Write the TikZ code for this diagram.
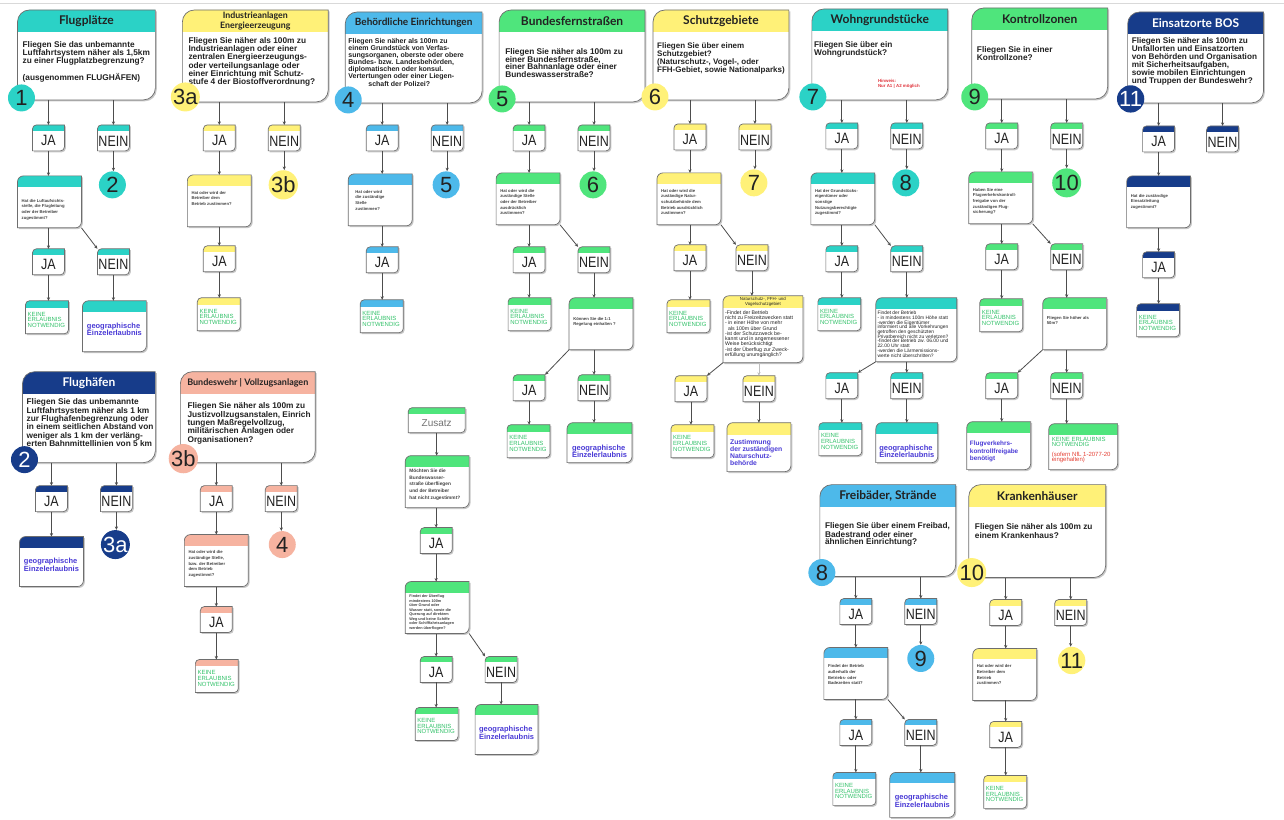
\documentclass[tikz,border=0pt]{standalone}
\usepackage{fontspec}
\usepackage{graphicx}
\setmainfont{Liberation Sans}
\newfontfamily\headfont{Lato}
\usetikzlibrary{arrows.meta,backgrounds}

\definecolor{tq}{HTML}{2BD2C6}
\definecolor{ye}{HTML}{FFF178}
\definecolor{bl}{HTML}{4DB9EA}
\definecolor{gr}{HTML}{4FE57C}
\definecolor{nv}{HTML}{173C8A}
\definecolor{sa}{HTML}{F6B3A0}
\definecolor{okgreen}{HTML}{33C26A}
\definecolor{geoblue}{HTML}{4A3BD6}
\definecolor{warnred}{HTML}{E0343C}
\definecolor{txt}{HTML}{222222}
\definecolor{edge}{HTML}{6E6E6E}

\tikzset{
  plate/.style={anchor=north west, inner sep=0pt, outer sep=0pt},
  plateline/.style={draw=edge, line width=0.7pt},
  plateshadow/.style={black!22, transform canvas={shift={(1.4pt,-1.4pt)}}},
  headtext/.style={inner sep=0pt, align=center, text=txt, font=\headfont\bfseries\fontsize{12}{13}\selectfont},
  bodytext/.style={anchor=north west, inner sep=0pt, align=left, text=txt, font=\bfseries\fontsize{8.3}{8.3}\selectfont},
  asktext/.style={anchor=north west, inner sep=0pt, align=left, text=txt!85, font=\bfseries\fontsize{4.2}{5.7}\selectfont},
  smalltext/.style={anchor=north west, inner sep=0pt, align=left, text=txt, font=\fontsize{5.2}{5.1}\selectfont},
  hinttext/.style={anchor=north west, inner sep=0pt, align=left, text=warnred, font=\bfseries\fontsize{4.4}{5.2}\selectfont},
  anslabel/.style={inner sep=0pt, text=txt, font=\fontsize{12.5}{13}\selectfont},
  oktext/.style={anchor=north west, inner sep=0pt, align=left, text=okgreen, font=\fontsize{6}{5.6}\selectfont},
  geotext/.style={inner sep=0pt, align=left, text=geoblue, font=\bfseries\fontsize{7.5}{7.6}\selectfont},
  numdot/.style={circle, inner sep=0pt, minimum size=27pt, text=txt, font=\fontsize{22}{22}\selectfont},
  link/.style={draw=edge!70!black, line width=0.8pt, -{Stealth[length=3.5pt,width=3.2pt]}},
}

% name, x, y, width, height, colour, strip, radius
\newcommand\plate[8]{%
  \node[plate, minimum width=#4pt, minimum height=#5pt] (#1) at (#2,#3) {};
  \begin{scope}[on background layer]
    \fill[plateshadow] ([yshift=-#8pt]#1.north west) arc[start angle=180,end angle=90,radius=#8pt]
      -- (#1.north east) -- ([yshift=#8pt]#1.south east) arc[start angle=0,end angle=-90,radius=#8pt]
      -- (#1.south west) -- cycle;
    \draw[plateline, fill=white, path picture={\fill[#6] ([yshift=2pt]path picture bounding box.north west)
      rectangle ([yshift=-#7pt]path picture bounding box.north east);}]
      ([yshift=-#8pt]#1.north west) arc[start angle=180,end angle=90,radius=#8pt]
      -- (#1.north east) -- ([yshift=#8pt]#1.south east) arc[start angle=0,end angle=-90,radius=#8pt]
      -- (#1.south west) -- cycle;
  \end{scope}}
\newcommand\topic[6]{\plate{#1}{#2}{#3}{#4}{#5}{#6}{22}{12}}
\newcommand\answer[5]{%
  \plate{#1}{#2}{#3}{32}{26}{#4}{6}{4}
  \node[anslabel] (#1-l) at ([yshift=-3pt]#1.center) {\scalebox{1}[1.2]{#5}};}
\newcommand\ask[6][]{%
  \plate{#2}{#3}{#4}{64}{52}{#5}{11}{6}
  \node[asktext,#1] (#2-l) at ([shift={(4pt,-16pt)}]#2.north west) {#6};}
\newcommand\keine[4]{%
  \plate{#1}{#2}{#3}{43}{33}{#4}{7}{4}
  \node[oktext] (#1-l) at ([shift={(2pt,-11pt)}]#1.north west) {KEINE\\ERLAUBNIS\\NOTWENDIG};}
\newcommand\geo[6]{%
  \plate{#1}{#2}{#3}{#4}{#5}{#6}{11}{6}
  \node[geotext] (#1-l) at ([yshift=-28.5pt]#1.north) {geographische\\Einzelerlaubnis};}

\begin{document}
\begin{tikzpicture}[x=1pt, y=-1pt]
  \begin{scope}[on background layer]
    \fill[white] (0,0) rectangle (1284,820);
    \draw[black!15, line width=1pt] (0,3) -- (1284,3);
  \end{scope}
  \useasboundingbox (0,0) rectangle (1284,820);

  % Flugplätze
  \topic{c1}{17}{10}{138}{90}{tq}
  \node[headtext] (c1-h) at ([yshift=-11pt]c1.north) {Flugplätze};
  \node[bodytext] (c1-b) at (22,41) {Fliegen Sie das unbemannte\\Luftfahrtsystem näher als 1,5km\\zu einer Flugplatzbegrenzung?\\[6.5pt](ausgenommen FLUGHÄFEN)};
  \node[numdot, fill=tq] (n1) at (21,98) {1};
  \answer{a1y}{32}{125}{tq}{JA}
  \answer{a1n}{97}{125}{tq}{NEIN}
  \node[numdot, fill=tq] (n2) at (112,185) {2};
  \ask[yshift=-7pt]{q1}{17}{176}{tq}{Hat die Luftaufsichts-\\stelle, die Flugleitung\\oder der Betreiber\\zugestimmt?}
  \answer{a1y2}{32}{249}{tq}{JA}
  \answer{a1n2}{97}{249}{tq}{NEIN}
  \keine{r1}{25}{301}{tq}
  \geo{g1}{82}{301}{64}{51}{tq}

  % Industrieanlagen
  \topic{c2}{182}{10}{146}{92}{ye}
  \node[headtext, font=\headfont\bfseries\fontsize{8.8}{9.4}\selectfont] (c2-h) at ([yshift=-11pt]c2.north) {Industrieanlagen\\Energieerzeugung};
  \node[bodytext] (c2-b) at (188,37) {Fliegen Sie näher als 100m zu\\Industrieanlagen oder einer\\zentralen Energieerzeugungs-\\oder verteilungsanlage oder\\einer Einrichtung mit Schutz-\\stufe 4 der Biostoffverordnung?};
  \node[numdot, fill=ye] (n3a) at (185,97) {3a};
  \answer{a2y}{203}{125}{ye}{JA}
  \answer{a2n}{268}{125}{ye}{NEIN}
  \node[numdot, fill=ye] (n3b) at (283,185) {3b};
  \ask{q2}{187}{175}{ye}{Hat oder wird der\\Betreiber dem\\Betrieb zustimmen?}
  \answer{a2y2}{203}{246}{ye}{JA}
  \keine{r2}{197}{298}{ye}

  % Behördliche Einrichtungen
  \topic{c3}{345}{12}{137}{91}{bl}
  \node[headtext, font=\headfont\bfseries\fontsize{10}{11}\selectfont] (c3-h) at ([yshift=-11pt]c3.north) {Behördliche Einrichtungen};
  \node[bodytext, font=\bfseries\fontsize{7}{6.4}\selectfont] (c3-b) at (348,38) {Fliegen Sie näher als 100m zu\\einem Grundstück von Verfas-\\sungsorganen, oberste oder obere\\Bundes- bzw. Landesbehörden,\\diplomatischen oder konsul.\\Vertertungen oder einer Liegen-\\\hspace*{20pt}schaft der Polizei?};
  \node[numdot, fill=bl] (n4) at (348,100) {4};
  \answer{a3y}{366}{125}{bl}{JA}
  \answer{a3n}{431}{125}{bl}{NEIN}
  \node[numdot, fill=bl] (n5a) at (446,185) {5};
  \ask[xshift=3pt]{q3}{348}{174}{bl}{Hat oder wird\\die zuständige\\Stelle\\zustimmen?}
  \answer{a3y2}{366}{247}{bl}{JA}
  \keine{r3}{360}{300}{bl}

  % Bundesfernstraßen
  \topic{c4}{499}{10}{146}{92}{gr}
  \node[headtext] (c4-h) at ([yshift=-11pt]c4.north) {Bundesfernstraßen};
  \node[bodytext, font=\bfseries\fontsize{8.3}{7.9}\selectfont] (c4-b) at (505,48) {Fliegen Sie näher als 100m zu\\einer Bundesfernstraße,\\einer Bahnanlage oder einer\\Bundeswasserstraße?};
  \node[numdot, fill=gr] (n5) at (502,99) {5};
  \answer{a4y}{513}{125}{gr}{JA}
  \answer{a4n}{578}{125}{gr}{NEIN}
  \node[numdot, fill=gr] (n6) at (593,185) {6};
  \ask{q4}{496}{173}{gr}{Hat oder wird die\\zuständige Stelle\\oder der Betreiber\\ausdrücklich\\zustimmen?}
  \answer{a4y2}{513}{247}{gr}{JA}
  \answer{a4n2}{578}{247}{gr}{NEIN}
  \keine{r4}{508}{298}{gr}
  \ask[yshift=-3pt]{q4b}{569}{298}{gr}{Können Sie die 1:1\\Regelung einhalten ?}
  \answer{a4y3}{513}{375}{gr}{JA}
  \answer{a4n3}{578}{375}{gr}{NEIN}
  \keine{r4b}{507}{425}{gr}
  \geo{g4}{567}{423}{65}{40}{gr}

  % Schutzgebiete
  \topic{c5}{653}{10}{136}{90}{ye}
  \node[headtext] (c5-h) at ([yshift=-11pt]c5.north) {Schutzgebiete};
  \node[bodytext, font=\bfseries\fontsize{8}{8}\selectfont] (c5-b) at (657,43) {Fliegen Sie über einem\\Schutzgebiet?\\(Naturschutz-, Vogel-, oder\\FFH-Gebiet, sowie Nationalparks)};
  \node[numdot, fill=ye] (n6b) at (655,97) {6};
  \answer{a5y}{674}{124}{ye}{JA}
  \answer{a5n}{739}{124}{ye}{NEIN}
  \node[numdot, fill=ye] (n7) at (754,183) {7};
  \ask{q5}{657}{173}{ye}{Hat oder wird die\\zuständige Natur-\\schutzbehörde dem\\Betrieb ausdrücklich\\zustimmen?}
  \answer{a5y2}{674}{245}{ye}{JA}
  \answer{a5n2}{736}{245}{ye}{NEIN}
  \keine{r5}{667}{300}{ye}
  \plate{q5b}{723}{296}{80}{67}{ye}{12}{6}
  \node[smalltext, anchor=north, align=center, font=\fontsize{4.4}{5}\selectfont] (q5b-h) at ([yshift=-1.5pt]q5b.north) {Naturschutz-, FFH- und\\Vogelschutzgebiet};
  \node[smalltext] (q5b-l) at ([shift={(2pt,-15pt)}]q5b.north west) {-Findet der Betrieb\\nicht zu Freizeitzwecken statt\\- in einer Höhe von mehr\\\hspace*{3pt}als 100m über Grund\\-ist der Schutzzweck be-\\kannt und in angemessener\\Weise berücksichtigt\\-ist der Überflug zur Zweck-\\erfüllung unumgänglich?};
  \answer{a5y3}{675}{376}{ye}{JA}
  \answer{a5n3}{743}{376}{ye}{NEIN}
  \keine{r5b}{671}{425}{ye}
  \plate{z5}{727}{423}{64}{49}{ye}{12}{6}
  \node[geotext, anchor=north west, font=\bfseries\fontsize{6.8}{7}\selectfont] (z5-l) at ([shift={(3pt,-17pt)}]z5.north west) {Zustimmung\\der zuständigen\\Naturschutz-\\behörde};

  % Wohngrundstücke
  \topic{c6}{812}{9}{136}{91}{tq}
  \node[headtext] (c6-h) at ([yshift=-11pt]c6.north) {Wohngrundstücke};
  \node[bodytext, font=\bfseries\fontsize{8.3}{8}\selectfont] (c6-b) at (814,41) {Fliegen Sie über ein\\Wohngrundstück?};
  \node[hinttext] (c6-w) at (878,79) {Hinweis:\\Nur A1 | A2 möglich};
  \node[numdot, fill=tq] (n7b) at (813,97) {7};
  \answer{a6y}{826}{123}{tq}{JA}
  \answer{a6n}{891}{123}{tq}{NEIN}
  \node[numdot, fill=tq] (n8) at (906,183) {8};
  \ask{q6}{811}{173}{tq}{Hat der Grundstücks-\\eigentümer oder\\sonstige\\Nutzungsberechtigte\\zugestimmt?}
  \answer{a6y2}{826}{246}{tq}{JA}
  \answer{a6n2}{891}{246}{tq}{NEIN}
  \keine{r6}{818}{298}{tq}
  \plate{q6b}{876}{298}{81}{64}{tq}{11}{6}
  \node[smalltext, font=\fontsize{4.9}{4.75}\selectfont] (q6b-l) at ([shift={(1.5pt,-13pt)}]q6b.north west) {Findet der Betrieb\\- in mindestens 100m Höhe statt\\-werden die Eigentümer\\informiert und alle Vorkehrungen\\getroffen den geschützten\\Privatbereich nicht zu verletzen?\\-findet der Betrieb zw. 06.00 und\\22.00 Uhr statt\\-werden die Lärmemissions-\\werte nicht überschritten?};
  \answer{a6y3}{826}{373}{tq}{JA}
  \answer{a6n3}{891}{373}{tq}{NEIN}
  \keine{r6b}{819}{423}{tq}
  \geo{g6}{876}{423}{62}{40}{tq}

  % Kontrollzonen
  \topic{c7}{972}{8}{136}{91}{gr}
  \node[headtext] (c7-h) at ([yshift=-11pt]c7.north) {Kontrollzonen};
  \node[bodytext, font=\bfseries\fontsize{8.3}{8}\selectfont] (c7-b) at (977,46) {Fliegen Sie in einer\\Kontrollzone?};
  \node[numdot, fill=gr] (n9) at (975,97) {9};
  \answer{a7y}{986}{123}{gr}{JA}
  \answer{a7n}{1051}{123}{gr}{NEIN}
  \node[numdot, fill=gr] (n10) at (1067,183) {10};
  \ask{q7}{969}{172}{gr}{Haben Sie eine\\Flugverkehrskontroll-\\freigabe von der\\zuständigen Flug-\\sicherung?}
  \answer{a7y2}{986}{244}{gr}{JA}
  \answer{a7n2}{1051}{244}{gr}{NEIN}
  \keine{r7}{980}{299}{gr}
  \ask[yshift=-2pt]{q7b}{1043}{298}{gr}{Fliegen Sie höher als\\50m?}
  \answer{a7y3}{986}{373}{gr}{JA}
  \answer{a7n3}{1051}{373}{gr}{NEIN}
  \plate{f7}{967}{422}{64}{48}{gr}{11}{6}
  \node[geotext, anchor=north west, font=\bfseries\fontsize{6.4}{7.6}\selectfont] (f7-l) at ([shift={(3pt,-19pt)}]f7.north west) {Flugverkehrs-\\kontrollfreigabe\\benötigt};
  \plate{k7}{1049}{424}{69}{46}{gr}{11}{6}
  \node[oktext] (k7-l) at ([shift={(3pt,-13pt)}]k7.north west) {KEINE ERLAUBNIS\\NOTWENDIG};
  \node[oktext, text=warnred!85!orange] (k7-n) at ([shift={(3pt,-28pt)}]k7.north west) {(sofern NfL 1-2077-20\\eingehalten)};

  % Einsatzorte BOS
  \topic{c8}{1128}{12}{136}{91}{nv}
  \node[headtext, text=white] (c8-h) at ([yshift=-11pt]c8.north) {Einsatzorte BOS};
  \node[bodytext, font=\bfseries\fontsize{8.2}{8.1}\selectfont] (c8-b) at (1132,37) {Fliegen Sie näher als 100m zu\\Unfallorten und Einsatzorten\\von Behörden und Organisation\\mit Sicherheitsaufgaben,\\sowie mobilen Einrichtungen\\und Truppen der Bundeswehr?};
  \node[numdot, fill=nv, text=white] (n11) at (1131,99) {11};
  \answer{a8y}{1143}{126}{nv}{JA}
  \answer{a8n}{1207}{126}{nv}{NEIN}
  \ask[yshift=-2pt]{q8}{1127}{176}{nv}{Hat die zuständige\\Einsatzleitung\\zugestimmt?}
  \answer{a8y2}{1143}{252}{nv}{JA}
  \keine{r8}{1137}{304}{nv}

  % Flughäfen
  \topic{c9}{22}{372}{133}{91}{nv}
  \node[headtext, text=white] (c9-h) at ([yshift=-11pt]c9.north) {Flughäfen};
  \node[bodytext] (c9-b) at (26,399) {Fliegen Sie das unbemannte\\Luftfahrtsystem näher als 1 km\\zur Flughafenbegrenzung oder\\in einem seitlichen Abstand von\\weniger als 1 km der verläng-\\erten Bahnmittellinien von 5 km};
  \node[numdot, fill=nv, text=white] (n2b) at (24,460) {2};
  \answer{a9y}{35}{486}{nv}{JA}
  \answer{a9n}{100}{486}{nv}{NEIN}
  \node[numdot, fill=nv, text=white] (n3ab) at (115,545) {3a};
  \geo{g9}{19}{537}{64}{50}{nv}

  % Bundeswehr | Vollzugsanlagen
  \topic{c10}{180}{372}{135}{91}{sa}
  \node[headtext, font=\headfont\bfseries\fontsize{9}{10}\selectfont] (c10-h) at ([yshift=-11pt]c10.north) {Bundeswehr | Vollzugsanlagen};
  \node[bodytext] (c10-b) at (187,403) {Fliegen Sie näher als 100m zu\\Justizvollzugsanstalen, Einrich\\tungen Maßregelvollzug,\\militärischen Anlagen oder\\Organisationen?};
  \node[numdot, fill=sa] (n3bb) at (183,459) {3b};
  \answer{a10y}{200}{486}{sa}{JA}
  \answer{a10n}{265}{486}{sa}{NEIN}
  \node[numdot, fill=sa] (n4b) at (282,545) {4};
  \ask{q10}{184}{535}{sa}{Hat oder wird die\\zuständige Stelle,\\bzw. der Betreiber\\dem Betrieb\\zugestimmt?}
  \answer{a10y2}{200}{607}{sa}{JA}
  \keine{r10}{195}{660}{sa}

  % Zusatz
  \plate{z0}{408}{408}{57}{25}{gr}{6}{4}
  \node[inner sep=0pt, text=black!55, font=\fontsize{10}{10}\selectfont] (z0-l) at ([yshift=-3pt]z0.center) {Zusatz};
  \ask[yshift=3pt, font=\bfseries\fontsize{4.8}{6.8}\selectfont]{zq1}{405}{456}{gr}{Möchten Sie die\\Bundeswasser-\\straße überfliegen\\und der Betreiber\\hat nicht zugestimmt?}
  \answer{zy}{420}{528}{gr}{JA}
  \ask[yshift=3pt, font=\bfseries\fontsize{3.8}{4.5}\selectfont]{zq2}{405}{582}{gr}{Findet der Überflug\\mindestens 100m\\über Grund oder\\Wasser statt, sowie die\\Querung auf direktem\\Weg und keine Schiffe\\oder Schifffahrtsanlagen\\werden überflogen?}
  \answer{zy2}{420}{657}{gr}{JA}
  \answer{zn2}{485}{657}{gr}{NEIN}
  \keine{zr}{415}{708}{gr}
  \geo{zg}{475}{705}{63}{50}{gr}

  % Freibäder, Strände
  \topic{c11}{820}{485}{136}{92}{bl}
  \node[headtext] (c11-h) at ([yshift=-11pt]c11.north) {Freibäder, Strände};
  \node[bodytext, font=\bfseries\fontsize{8.3}{7.4}\selectfont] (c11-b) at (825,523) {Fliegen Sie über einem Freibad,\\Badestrand oder einer\\ähnlichen Einrichtung?};
  \node[numdot, fill=bl] (n8b) at (822,573) {8};
  \answer{a11y}{840}{599}{bl}{JA}
  \answer{a11n}{905}{599}{bl}{NEIN}
  \node[numdot, fill=bl] (n9b) at (921,659) {9};
  \ask[yshift=-1pt]{q11}{824}{648}{bl}{Findet der Betrieb\\außerhalb der\\Betriebs- oder\\Badezeiten statt?}
  \answer{a11y2}{840}{720}{bl}{JA}
  \answer{a11n2}{905}{720}{bl}{NEIN}
  \keine{r11}{833}{773}{bl}
  \geo{g11}{890}{773}{65}{45}{bl}

  % Krankenhäuser
  \topic{c12}{969}{485}{137}{93}{ye}
  \node[headtext] (c12-h) at ([yshift=-11pt]c12.north) {Krankenhäuser};
  \node[bodytext, font=\bfseries\fontsize{8.3}{7.6}\selectfont] (c12-b) at (975,524) {Fliegen Sie näher als 100m zu\\einem Krankenhaus?};
  \node[numdot, fill=ye] (n10b) at (972,573) {10};
  \answer{a12y}{990}{600}{ye}{JA}
  \answer{a12n}{1055}{600}{ye}{NEIN}
  \node[numdot, fill=ye] (n11b) at (1072,661) {11};
  \ask{q12}{973}{649}{ye}{Hat oder wird der\\Betreiber dem\\Betrieb\\zustimmen?}
  \answer{a12y2}{990}{722}{ye}{JA}
  \keine{r12}{984}{776}{ye}

  \begin{scope}[link]
    \draw (a1y |- c1.south) -- (a1y.north);
    \draw (a1n |- c1.south) -- (a1n.north);
    \draw (a1n.south) -- (a1n.south |- n2.north);
    \draw (a1y.south) -- (a1y.south |- q1.north);
    \draw (q1.south -| a1y2) -- (a1y2.north);
    \draw (q1.south east) -- (a1n2.north west);
    \draw (a1y2.south) -- (a1y2.south |- r1.north);
    \draw (a1n2.south) -- (a1n2.south |- g1.north);

    \draw (a2y |- c2.south) -- (a2y.north);
    \draw (a2n |- c2.south) -- (a2n.north);
    \draw (a2n.south) -- (a2n.south |- n3b.north);
    \draw (a2y.south) -- (a2y.south |- q2.north);
    \draw (q2.south -| a2y2) -- (a2y2.north);
    \draw (a2y2.south) -- (a2y2.south |- r2.north);

    \draw (a3y |- c3.south) -- (a3y.north);
    \draw (a3n |- c3.south) -- (a3n.north);
    \draw (a3n.south) -- (a3n.south |- n5a.north);
    \draw (a3y.south) -- (a3y.south |- q3.north);
    \draw (q3.south -| a3y2) -- (a3y2.north);
    \draw (a3y2.south) -- (a3y2.south |- r3.north);

    \draw (a4y |- c4.south) -- (a4y.north);
    \draw (a4n |- c4.south) -- (a4n.north);
    \draw (a4n.south) -- (a4n.south |- n6.north);
    \draw (a4y.south) -- (a4y.south |- q4.north);
    \draw (q4.south -| a4y2) -- (a4y2.north);
    \draw (q4.south east) -- (a4n2.north west);
    \draw (a4y2.south) -- (a4y2.south |- r4.north);
    \draw (a4n2.south) -- (a4n2.south |- q4b.north);
    \draw (q4b.south west) -- (a4y3.north east);
    \draw (q4b.south -| a4n3) -- (a4n3.north);
    \draw (a4y3.south) -- (a4y3.south |- r4b.north);
    \draw (a4n3.south) -- (a4n3.south |- g4.north);

    \draw (a5y |- c5.south) -- (a5y.north);
    \draw (a5n |- c5.south) -- (a5n.north);
    \draw (a5n.south) -- (a5n.south |- n7.north);
    \draw (a5y.south) -- (a5y.south |- q5.north);
    \draw (q5.south -| a5y2) -- (a5y2.north);
    \draw (q5.south east) -- (a5n2.north west);
    \draw (a5y2.south) -- (a5y2.south |- r5.north);
    \draw (a5n2.south) -- (a5n2.south |- q5b.north);
    \draw (q5b.south west) -- (a5y3.north east);
    \draw[draw=edge!45, line width=0.4pt] (q5b.south -| a5n3) -- (a5n3.north);
    \draw (a5y3.south) -- (a5y3.south |- r5b.north);
    \draw (a5n3.south) -- (a5n3.south |- z5.north);

    \draw (a6y |- c6.south) -- (a6y.north);
    \draw (a6n |- c6.south) -- (a6n.north);
    \draw (a6n.south) -- (a6n.south |- n8.north);
    \draw (a6y.south) -- (a6y.south |- q6.north);
    \draw (q6.south -| a6y2) -- (a6y2.north);
    \draw (q6.south east) -- (a6n2.north west);
    \draw (a6y2.south) -- (a6y2.south |- r6.north);
    \draw (a6n2.south) -- (a6n2.south |- q6b.north);
    \draw (q6b.south west) -- (a6y3.north east);
    \draw (q6b.south -| a6n3) -- (a6n3.north);
    \draw (a6y3.south) -- (a6y3.south |- r6b.north);
    \draw (a6n3.south) -- (a6n3.south |- g6.north);

    \draw (a7y |- c7.south) -- (a7y.north);
    \draw (a7n |- c7.south) -- (a7n.north);
    \draw (a7n.south) -- (a7n.south |- n10.north);
    \draw (a7y.south) -- (a7y.south |- q7.north);
    \draw (q7.south -| a7y2) -- (a7y2.north);
    \draw (q7.south east) -- (a7n2.north west);
    \draw (a7y2.south) -- (a7y2.south |- r7.north);
    \draw (a7n2.south) -- (a7n2.south |- q7b.north);
    \draw (q7b.south west) -- (a7y3.north east);
    \draw (q7b.south -| a7n3) -- (a7n3.north);
    \draw (a7y3.south) -- (a7y3.south |- f7.north);
    \draw (a7n3.south) -- (a7n3.south |- k7.north);

    \draw (a8y |- c8.south) -- (a8y.north);
    \draw (a8n |- c8.south) -- (a8n.north);
    \draw (a8y.south) -- (a8y.south |- q8.north);
    \draw (q8.south -| a8y2) -- (a8y2.north);
    \draw (a8y2.south) -- (a8y2.south |- r8.north);

    \draw (a9y |- c9.south) -- (a9y.north);
    \draw (a9n |- c9.south) -- (a9n.north);
    \draw (a9n.south) -- (a9n.south |- n3ab.north);
    \draw (a9y.south) -- (a9y.south |- g9.north);

    \draw (a10y |- c10.south) -- (a10y.north);
    \draw (a10n |- c10.south) -- (a10n.north);
    \draw (a10n.south) -- (a10n.south |- n4b.north);
    \draw (a10y.south) -- (a10y.south |- q10.north);
    \draw (q10.south -| a10y2) -- (a10y2.north);
    \draw (a10y2.south) -- (a10y2.south |- r10.north);

    \draw (z0.south) -- (z0.south |- zq1.north);
    \draw (zq1.south -| zy) -- (zy.north);
    \draw (zy.south) -- (zy.south |- zq2.north);
    \draw (zq2.south -| zy2) -- (zy2.north);
    \draw (zq2.south east) -- (zn2.north west);
    \draw (zy2.south) -- (zy2.south |- zr.north);
    \draw (zn2.south) -- (zn2.south |- zg.north);

    \draw (a11y |- c11.south) -- (a11y.north);
    \draw (a11n |- c11.south) -- (a11n.north);
    \draw (a11n.south) -- (a11n.south |- n9b.north);
    \draw (a11y.south) -- (a11y.south |- q11.north);
    \draw (q11.south -| a11y2) -- (a11y2.north);
    \draw (q11.south east) -- (a11n2.north west);
    \draw (a11y2.south) -- (a11y2.south |- r11.north);
    \draw (a11n2.south) -- (a11n2.south |- g11.north);

    \draw (a12y |- c12.south) -- (a12y.north);
    \draw (a12n |- c12.south) -- (a12n.north);
    \draw (a12n.south) -- (a12n.south |- n11b.north);
    \draw (a12y.south) -- (a12y.south |- q12.north);
    \draw (q12.south -| a12y2) -- (a12y2.north);
    \draw (a12y2.south) -- (a12y2.south |- r12.north);
  \end{scope}
\end{tikzpicture}
\end{document}
